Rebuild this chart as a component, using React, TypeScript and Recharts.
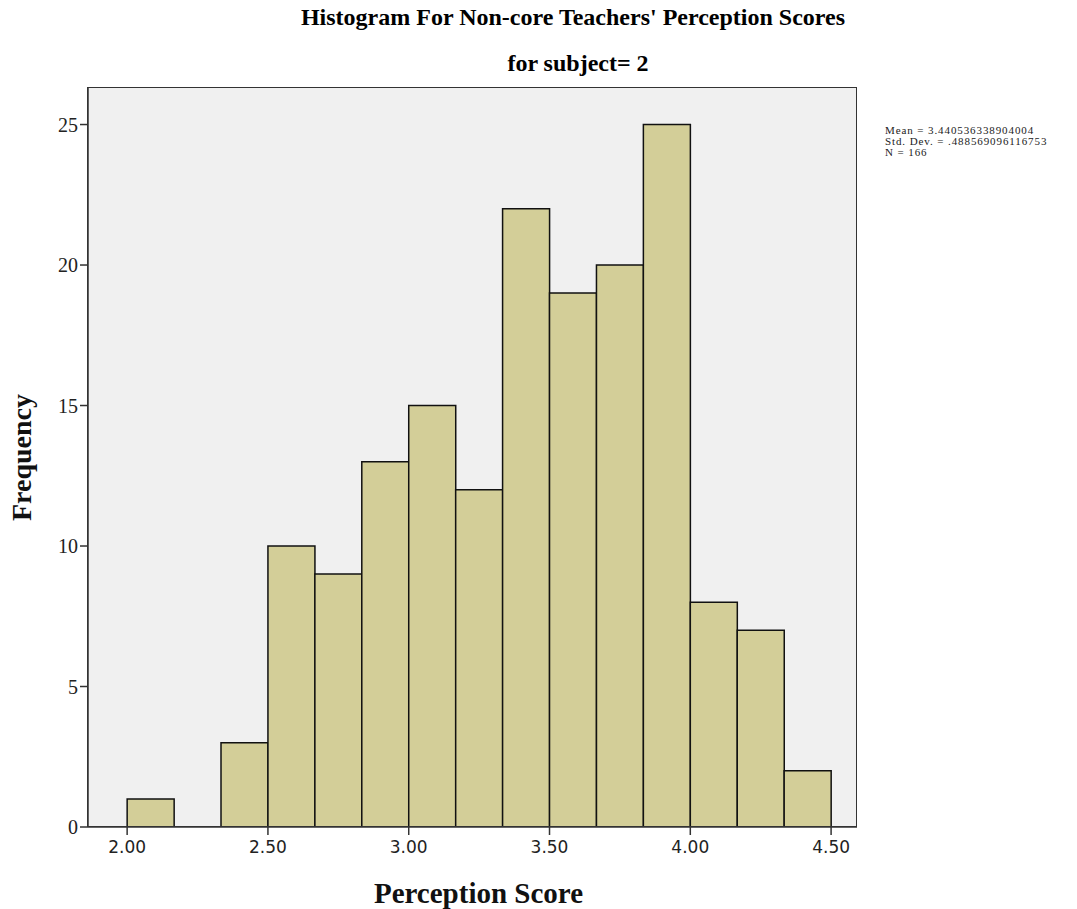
import {
  ComposedChart,
  Bar,
  XAxis,
  YAxis,
  CartesianGrid,
} from 'recharts'

// histogram bins (lower edges) and counts, bin width 1/6
const binStarts = [2.0, 2.1667, 2.3333, 2.5, 2.6667, 2.8333, 3.0, 3.1667, 3.3333, 3.5, 3.6667, 3.8333, 4.0, 4.1667, 4.3333]
const counts = [1, 0, 3, 10, 9, 13, 15, 12, 22, 19, 20, 25, 8, 7, 2]
const BIN_WIDTH = 1 / 6

const xTicks = [2.0, 2.5, 3.0, 3.5, 4.0, 4.5]
const yTicks = [0, 5, 10, 15, 20, 25]

const statLines = [
  'Mean = 3.440536338904004',
  'Std. Dev. = .488569096116753',
  'N = 166',
]

const SERIF = '"Liberation Serif", "DejaVu Serif", serif'

const data = binStarts.map((s, i) => ({ mid: s + BIN_WIDTH / 2, count: counts[i] }))

export default function App() {
  return (
    <div style={{ position: 'absolute', left: 0, top: 0, width: 1077, height: 909, background: '#fff' }}>
      <div style={{ position: 'absolute', left: 0, width: 1146, top: 4, textAlign: 'center', fontFamily: SERIF, fontWeight: 'bold', fontSize: 24 }}>
        Histogram For Non-core Teachers' Perception Scores
      </div>
      <div style={{ position: 'absolute', left: 0, width: 1156, top: 50, textAlign: 'center', fontFamily: SERIF, fontWeight: 'bold', fontSize: 24 }}>
        for subject= 2
      </div>
      <div style={{ position: 'absolute', left: 885, top: 125, fontFamily: SERIF, fontSize: 11, lineHeight: '11px', letterSpacing: 0.9, color: '#222' }}>
        {statLines.map(l => <div key={l}>{l}</div>)}
      </div>
      <ComposedChart
        width={1077}
        height={909}
        data={data}
        margin={{ top: 88, right: 220, bottom: 0, left: 0 }}
        barCategoryGap={0}
        barGap={0}
      >
        <CartesianGrid horizontal={false} vertical={false} fill="#F0F0F0" />
        <XAxis
          type="number"
          dataKey="mid"
          domain={[1.861, 4.592]}
          allowDataOverflow
          ticks={xTicks}
          tickFormatter={v => v.toFixed(2)}
          tick={{ fontSize: 17, fill: '#222', fontFamily: '"DejaVu Sans", sans-serif' }}
          tickSize={8}
          tickMargin={6}
          axisLine={{ stroke: '#333', strokeWidth: 1.5 }}
          tickLine={{ stroke: '#333', strokeWidth: 1.5 }}
          height={82}
          label={{ value: 'Perception Score', position: 'insideBottom', offset: 6, dx: 6, fontSize: 29, fontWeight: 'bold', fill: '#111', fontFamily: SERIF }}
        />
        <YAxis
          type="number"
          domain={[0, 26.3]}
          allowDataOverflow
          ticks={yTicks}
          tick={{ fontSize: 20, fill: '#222', fontFamily: SERIF }}
          tickSize={8}
          tickMargin={2}
          width={88}
          axisLine={{ stroke: '#333', strokeWidth: 1.5 }}
          tickLine={{ stroke: '#333', strokeWidth: 1.5 }}
          label={{ value: 'Frequency', angle: -90, position: 'insideLeft', offset: 21, fontSize: 28, fontWeight: 'bold', fill: '#111', fontFamily: SERIF, style: { textAnchor: 'middle' } }}
        />
        <Bar dataKey="count" fill="#D3CE98" stroke="#111" strokeWidth={1.5} isAnimationActive={false} />
      </ComposedChart>
      {/* plot frame */}
      <div style={{ position: 'absolute', left: 87, top: 87, width: 770, height: 740, border: '1.5px solid #333', boxSizing: 'border-box', pointerEvents: 'none' }} />
    </div>
  )
}
